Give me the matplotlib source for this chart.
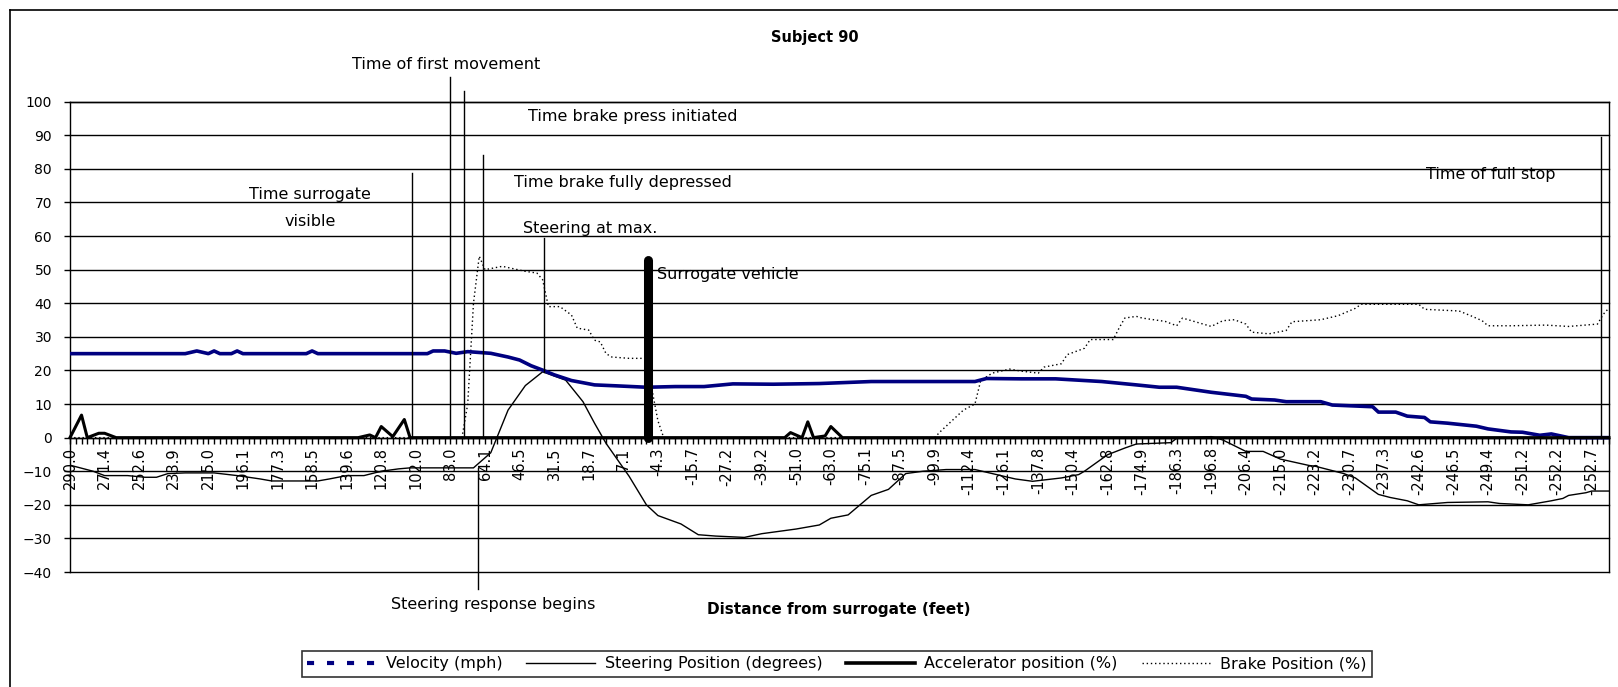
import matplotlib
matplotlib.use("Agg")
import matplotlib.pyplot as plt
from matplotlib.lines import Line2D

plt.rcParams['font.family'] = ['DejaVu Sans']

# category labels (distance from surrogate, feet), shown every 6th sample
tick_labels = ["290.0", "271.4", "252.6", "233.9", "215.0", "196.1", "177.3", "158.5",
               "139.6", "120.8", "102.0", "83.0", "64.1", "46.5", "31.5", "18.7", "7.1",
               "-4.3", "-15.7", "-27.2", "-39.2", "-51.0", "-63.0", "-75.1", "-87.5",
               "-99.9", "-112.4", "-126.1", "-137.8", "-150.4", "-162.8", "-174.9",
               "-186.3", "-196.8", "-206.4", "-215.0", "-223.2", "-230.7", "-237.3",
               "-242.6", "-246.5", "-249.4", "-251.2", "-252.2", "-252.7"]
n_samples = 268

# series: (sample index, value)
vel_i = [0, 20, 22, 24, 25, 26, 28, 29, 30, 41, 42, 43, 62, 63, 65, 67, 69,
         73, 76, 78, 80, 82, 84, 87, 91, 95, 100, 105, 110, 115, 122, 130,
         139, 146, 157, 159, 165, 171, 179, 182, 185, 189, 192,
         198, 204, 205, 209, 211, 217, 219, 226, 227, 230, 232, 235, 236, 239,
         244, 246, 250, 252, 255, 257, 260, 267]
vel_v = [25, 25, 25.8, 25, 25.8, 25, 25, 25.8, 25, 25, 25.8, 25, 25, 25.8, 25.8, 25.1, 25.6,
         25.1, 24.0, 23.1, 21.4, 20.1, 18.7, 17.0, 15.7, 15.4, 15.0, 15.2, 15.2, 16.0, 15.9, 16.1,
         16.7, 16.7, 16.7, 17.6, 17.5, 17.5, 16.7, 16.2, 15.7, 15.0, 15.0,
         13.5, 12.3, 11.5, 11.2, 10.7, 10.7, 9.7, 9.2, 7.6, 7.6, 6.4, 6.0, 4.7, 4.3,
         3.4, 2.6, 1.7, 1.6, 0.7, 1.1, 0.0, 0.0]

steer_i = [0, 4, 6, 10, 13, 15, 17, 20, 25, 29, 33, 35, 43, 45, 48, 51, 54, 57, 59, 70,
           73, 76, 79, 82, 86, 89, 91, 93, 97, 100, 102, 106, 109, 112, 117, 120, 126, 130,
           132, 135, 137, 139, 142, 145, 148, 152, 157, 160, 164, 167, 172, 175, 176, 180,
           183, 185, 191, 192, 198, 200, 204, 207, 210, 215, 216, 221, 223, 227, 229, 232,
           234, 239, 246, 248, 253, 257, 259, 260, 263, 264, 267]
steer_v = [-8.2, -10, -11.3, -11.3, -11.8, -11.8, -10.7, -10.5, -10.5, -11.3, -12.3, -12.9,
           -12.9, -12.3, -11.3, -11.3, -10, -9.3, -9.0, -9.0,
           -4.5, 8.2, 15.5, 19.6, 17.1, 10.7, 4.3, -1.7, -11.5, -20, -23.2, -25.7, -28.9,
           -29.3, -29.7, -28.6, -27.2, -26.0, -24, -23, -20.1, -17.2, -15.4, -10.7, -10,
           -9.5, -9.5, -10.7, -12.3, -13, -12, -11, -10, -5.1, -3.1, -1.9, -1.5, -0.2, 0.3,
           -0.7, -4.1, -4.1, -6.4, -8.3, -8.5, -10.7, -12, -16.9, -17.8, -18.8,
           -20, -19.3, -19.1, -19.6, -20, -18.8, -18.1, -17.2, -16.4, -15.9, -15.9]

acc_i = [0, 2, 3, 5, 6, 8, 50, 52, 53, 54, 56, 58, 59, 124, 125, 127, 128, 129, 131, 132, 134, 267]
acc_v = [0, 6.7, 0, 1.3, 1.3, 0, 0, 0.8, 0, 3.3, 0.3, 5.4, 0, 0, 1.5, 0, 4.7, 0, 0.5, 3.3, 0, 0]

brake_i = [0, 68, 69, 70, 71, 72, 75, 79, 81, 82, 83, 85, 87, 88, 90, 91, 92, 93, 94, 97,
           100, 101, 102, 103, 150, 151, 153, 155, 157, 158, 160, 163, 165, 168, 169, 172,
           173, 176, 177, 181, 182, 183, 185, 186, 190, 192, 193, 195, 197, 198, 200, 202,
           204, 205, 208, 211, 212, 217, 220, 223, 224, 230, 234, 235, 241, 243, 245, 246,
           250, 256, 260, 265, 266, 267]
brake_v = [0, 0, 10, 40, 54, 50, 51, 49.5, 49, 47, 39, 39, 36.5, 32.6, 32, 29, 28.5, 25, 24, 23.6,
           23.6, 14, 5, 0, 0, 1.8, 5, 8.2, 10, 17, 19.2, 20.4, 19.8, 19.2, 21, 22,
           24.7, 26.6, 29.2, 29.2, 32.6, 35.6, 36.1, 35.6, 34.6, 33.3, 35.6, 34.6, 33.6, 33.1, 34.8, 35.1,
           33.8, 31.4, 30.9, 31.9, 34.5, 35.1, 36.3, 38.5, 39.7, 39.7, 39.7, 38.2, 37.7, 36.3, 34.8, 33.3,
           33.3, 33.5, 33.1, 33.8, 36.7, 38.6]

# event marker lines: (index, bottom, top)
event_idx = [59.3, 65.9, 68.4, 70.8, 71.7, 82.2, 265.7]
event_lo = [0, 0, 0, -45, 0, 19.6, 0]
event_hi = [78.7, 107.5, 103.2, -9, 84.2, 59.3, 89.5]
surrogate_idx = 100.3
surrogate_span = [0, 53]

fig = plt.figure(figsize=(16.18, 6.87), dpi=100)
ax = fig.add_axes([0.04326, 0.16739, 0.95117, 0.68457])
ax.set_xlim(0, n_samples - 1)
ax.set_ylim(-40, 100)

# grid and frame
ax.set_yticks(range(-40, 101, 10))
ax.grid(axis='y', color='black', linewidth=1.0, zorder=0)
for gl in ax.get_ygridlines():
    gl.set_clip_on(False)
for side in ['left', 'right', 'top', 'bottom']:
    ax.spines[side].set_linewidth(1.0)
ax.spines['bottom'].set_position(('data', 0))

ax.set_xticks(range(0, len(tick_labels) * 6, 6))
ax.set_xticklabels(tick_labels, rotation=90, fontsize=10.5)
ax.set_xticks(range(n_samples), minor=True)
ax.tick_params(axis='x', which='both', direction='out', length=4, width=1, pad=3)
ax.tick_params(axis='y', direction='out', length=4, width=1, pad=9, labelsize=10)

# series
ax.plot(vel_i, vel_v, color='#000080', linewidth=2.6, solid_capstyle='butt', zorder=4)
ax.plot(steer_i, steer_v, color='black', linewidth=1.0, zorder=3)
ax.plot(acc_i, acc_v, color='black', linewidth=2.2, zorder=5, clip_on=False)
ax.plot(brake_i, brake_v, color='black', linewidth=1.0, linestyle=(0, (1, 2)), zorder=3)

# event lines
for xi, lo, hi in zip(event_idx, event_lo, event_hi):
    ax.plot([xi, xi], [lo, hi], color='black', linewidth=1.0, clip_on=False, zorder=6)
ax.plot([surrogate_idx, surrogate_idx], surrogate_span, color='black', linewidth=6.5,
        solid_capstyle='round', zorder=7)

# annotations
tkw = dict(fontsize=11.5, ha='center', va='center')
ax.text(65.2, 111.2, "Time of first movement", **tkw)
ax.text(97.6, 95.6, "Time brake press initiated", **tkw)
ax.text(95.9, 75.9, "Time brake fully depressed", **tkw)
ax.text(41.6, 72.5, "Time surrogate", **tkw)
ax.text(41.6, 64.2, "visible", **tkw)
ax.text(90.2, 62.4, "Steering at max.", **tkw)
ax.text(101.8, 48.6, "Surrogate vehicle", fontsize=11.5, ha='left', va='center')
ax.text(246.5, 78.4, "Time of full stop", **tkw)
ax.text(73.4, -49.7, "Steering response begins", **tkw)

fig.text(0.5037, 0.9447, "Subject 90", fontsize=10.5, fontweight='bold', ha='center', va='center')
fig.text(0.5185, 0.1121, "Distance from surrogate (feet)", fontsize=11, fontweight='bold',
         ha='center', va='center')

# legend
handles = [
    Line2D([], [], color='#000080', linewidth=3, linestyle=(0, (1.7, 3.1))),
    Line2D([], [], color='black', linewidth=1.0),
    Line2D([], [], color='black', linewidth=2.6),
    Line2D([], [], color='black', linewidth=1.0, linestyle=(0, (1, 2))),
]
names = ["Velocity (mph)", "Steering Position (degrees)", "Accelerator position (%)",
         "Brake Position (%)"]
leg = fig.legend(handles, names, loc='center', bbox_to_anchor=(0.5173, 0.034), ncol=4,
                 fontsize=11.5, frameon=True, fancybox=False, edgecolor='black',
                 handlelength=4.3, handletextpad=0.6, columnspacing=1.5,
                 borderpad=0.35)
leg.get_frame().set_linewidth(1.2)

# outer chart border
fig.add_artist(Line2D([9.5 / 1618, 9.5 / 1618], [0, 1 - 9.5 / 687], color='black',
                      linewidth=1.2, transform=fig.transFigure))
fig.add_artist(Line2D([9.5 / 1618, 1], [1 - 9.5 / 687, 1 - 9.5 / 687], color='black',
                      linewidth=1.2, transform=fig.transFigure))

fig.savefig("out.png", dpi=100)
